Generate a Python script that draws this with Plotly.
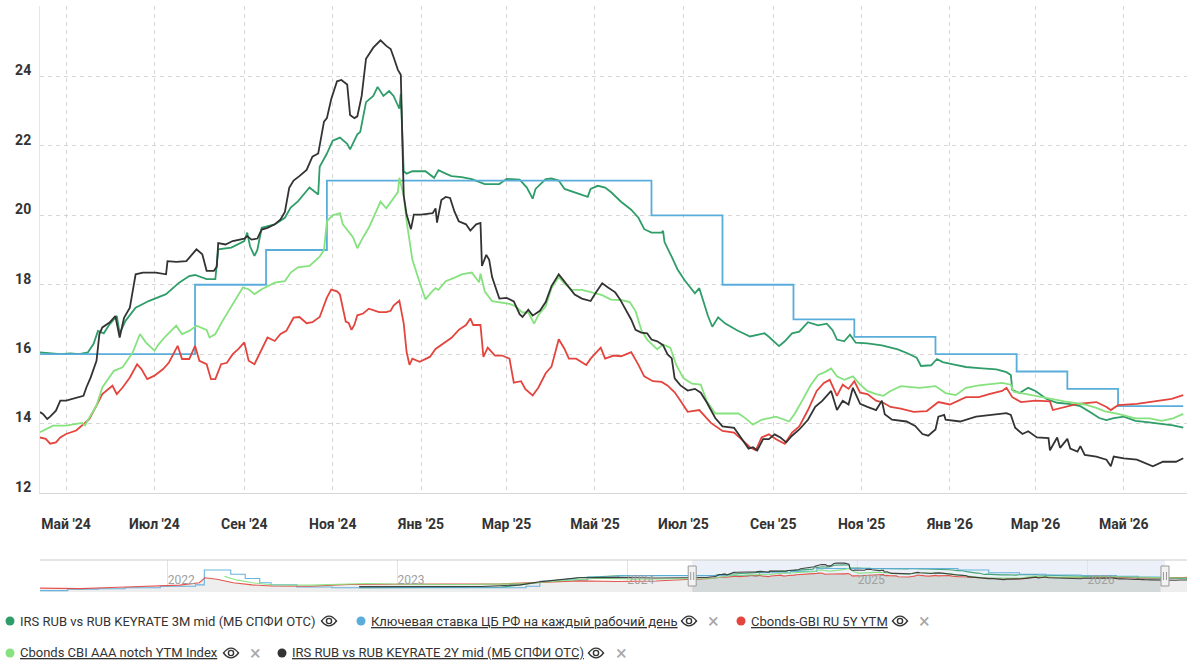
import plotly.graph_objects as go

# ------------------------------------------------------------------ data
# IRS RUB vs RUB KEYRATE 3M mid
irs3m = [
    ("2024-04-13", 16.05), ("2024-04-20", 16.02), ("2024-04-27", 16.0), ("2024-05-04", 16.02),
    ("2024-05-10", 16.0), ("2024-05-16", 16.05), ("2024-05-20", 16.3), ("2024-05-23", 16.67),
    ("2024-05-27", 16.6), ("2024-05-31", 16.86), ("2024-06-05", 17.1), ("2024-06-07", 16.6),
    ("2024-06-11", 16.96), ("2024-06-18", 17.34), ("2024-06-27", 17.53), ("2024-07-09", 17.73),
    ("2024-07-18", 18.06), ("2024-07-25", 18.25), ("2024-07-29", 18.28), ("2024-08-06", 18.16),
    ("2024-08-12", 18.16), ("2024-08-14", 19.02), ("2024-08-23", 19.07), ("2024-09-01", 19.26),
    ("2024-09-03", 19.5), ("2024-09-05", 19.1), ("2024-09-08", 18.83), ("2024-09-10", 19.0),
    ("2024-09-13", 19.64), ("2024-09-22", 19.74), ("2024-09-29", 19.93), ("2024-10-03", 20.22),
    ("2024-10-08", 20.4), ("2024-10-16", 20.8), ("2024-10-22", 20.6), ("2024-10-23", 21.4),
    ("2024-10-28", 21.78), ("2024-11-01", 22.15), ("2024-11-06", 22.24), ("2024-11-11", 22.06),
    ("2024-11-13", 21.9), ("2024-11-18", 22.33), ("2024-11-20", 22.4), ("2024-11-24", 23.26),
    ("2024-11-29", 23.44), ("2024-12-02", 23.7), ("2024-12-06", 23.44), ("2024-12-10", 23.58),
    ("2024-12-13", 23.44), ("2024-12-17", 23.07), ("2024-12-18", 23.5), ("2024-12-20", 21.27),
    ("2024-12-22", 21.2), ("2024-12-26", 21.27), ("2025-01-04", 21.27), ("2025-01-10", 21.08),
    ("2025-01-13", 21.3), ("2025-01-18", 21.2), ("2025-01-22", 21.13), ("2025-01-29", 21.1),
    ("2025-02-05", 21.04), ("2025-02-14", 20.9), ("2025-02-24", 20.9), ("2025-03-01", 21.05),
    ("2025-03-10", 21.03), ("2025-03-15", 20.8), ("2025-03-19", 20.48), ("2025-03-21", 20.76),
    ("2025-03-28", 21.04), ("2025-04-01", 21.06), ("2025-04-06", 21.0), ("2025-04-10", 20.76),
    ("2025-04-19", 20.62), ("2025-04-26", 20.53), ("2025-04-28", 20.76), ("2025-05-03", 20.85),
    ("2025-05-08", 20.8), ("2025-05-12", 20.67), ("2025-05-19", 20.39), ("2025-05-26", 20.16),
    ("2025-05-31", 19.93), ("2025-06-04", 19.6), ("2025-06-09", 19.5), ("2025-06-16", 19.5),
    ("2025-06-17", 19.55), ("2025-06-18", 19.23), ("2025-06-23", 18.8), ("2025-06-27", 18.44),
    ("2025-07-02", 18.12), ("2025-07-09", 17.75), ("2025-07-12", 17.9), ("2025-07-15", 17.52),
    ("2025-07-18", 17.1), ("2025-07-21", 16.79), ("2025-07-25", 17.06), ("2025-07-30", 16.88),
    ("2025-08-07", 16.69), ("2025-08-16", 16.51), ("2025-08-26", 16.6), ("2025-08-29", 16.5),
    ("2025-09-05", 16.23), ("2025-09-09", 16.37), ("2025-09-14", 16.6), ("2025-09-19", 16.65),
    ("2025-09-25", 16.92), ("2025-10-02", 16.83), ("2025-10-08", 16.88), ("2025-10-12", 16.69),
    ("2025-10-15", 16.42), ("2025-10-20", 16.37), ("2025-10-24", 16.56), ("2025-10-28", 16.33),
    ("2025-11-05", 16.31), ("2025-11-15", 16.25), ("2025-11-26", 16.14), ("2025-12-03", 16.02),
    ("2025-12-09", 15.9), ("2025-12-12", 15.66), ("2025-12-19", 15.68), ("2025-12-23", 15.86),
    ("2025-12-27", 15.77), ("2026-01-04", 15.7), ("2026-01-12", 15.63), ("2026-01-21", 15.6),
    ("2026-02-02", 15.56), ("2026-02-09", 15.48), ("2026-02-12", 15.4), ("2026-02-13", 14.97),
    ("2026-02-18", 14.88), ("2026-02-24", 15.03), ("2026-03-01", 14.94), ("2026-03-09", 14.7),
    ("2026-03-16", 14.6), ("2026-03-24", 14.57), ("2026-04-01", 14.5), ("2026-04-09", 14.3),
    ("2026-04-14", 14.16), ("2026-04-19", 14.1), ("2026-04-24", 14.16), ("2026-05-01", 14.2),
    ("2026-05-09", 14.08), ("2026-05-17", 14.04), ("2026-05-24", 14.0), ("2026-06-04", 13.95),
    ("2026-06-11", 13.88),
]

# Key rate (step changes)
keyrate = [
    ("2024-04-13", 16.0), ("2024-07-29", 18.0), ("2024-09-16", 19.0), ("2024-10-28", 21.0),
    ("2025-06-09", 20.0), ("2025-07-28", 18.0), ("2025-09-15", 17.0), ("2025-10-27", 16.5),
    ("2025-12-22", 16.0), ("2026-02-16", 15.5), ("2026-03-23", 15.0), ("2026-04-27", 14.5),
    ("2026-06-11", 14.5),
]

# Cbonds-GBI RU 5Y YTM
gbi5y = [
    ("2024-04-13", 13.6), ("2024-04-17", 13.56), ("2024-04-20", 13.42), ("2024-04-24", 13.46),
    ("2024-04-27", 13.6), ("2024-05-01", 13.7), ("2024-05-08", 13.8), ("2024-05-13", 13.99),
    ("2024-05-17", 14.13), ("2024-05-22", 14.52), ("2024-05-26", 14.85), ("2024-06-02", 15.09),
    ("2024-06-05", 14.85), ("2024-06-09", 15.04), ("2024-06-14", 15.33), ("2024-06-19", 15.71),
    ("2024-06-22", 15.57), ("2024-06-26", 15.28), ("2024-07-01", 15.38), ("2024-07-07", 15.57),
    ("2024-07-11", 15.76), ("2024-07-17", 16.24), ("2024-07-20", 15.86), ("2024-07-25", 15.86),
    ("2024-07-29", 16.24), ("2024-08-01", 15.81), ("2024-08-06", 15.71), ("2024-08-09", 15.28),
    ("2024-08-12", 15.28), ("2024-08-16", 15.71), ("2024-08-20", 15.75), ("2024-08-24", 16.0),
    ("2024-08-28", 16.15), ("2024-09-01", 16.34), ("2024-09-04", 15.81), ("2024-09-08", 15.71),
    ("2024-09-13", 16.15), ("2024-09-17", 16.48), ("2024-09-22", 16.38), ("2024-09-26", 16.58),
    ("2024-09-30", 16.67), ("2024-10-05", 17.05), ("2024-10-09", 17.07), ("2024-10-14", 16.89),
    ("2024-10-18", 16.92), ("2024-10-23", 17.07), ("2024-10-28", 17.63), ("2024-10-31", 17.86),
    ("2024-11-04", 17.81), ("2024-11-06", 17.72), ("2024-11-10", 16.94), ("2024-11-12", 16.9),
    ("2024-11-14", 16.7), ("2024-11-16", 16.85), ("2024-11-18", 17.12), ("2024-11-22", 17.17),
    ("2024-11-26", 17.31), ("2024-12-03", 17.21), ("2024-12-08", 17.21), ("2024-12-11", 17.25),
    ("2024-12-13", 17.4), ("2024-12-17", 17.54), ("2024-12-20", 16.89), ("2024-12-22", 16.06),
    ("2024-12-24", 15.69), ("2024-12-26", 15.87), ("2024-12-31", 15.78), ("2025-01-07", 15.92),
    ("2025-01-11", 16.15), ("2025-01-16", 16.29), ("2025-01-22", 16.47), ("2025-01-27", 16.7),
    ("2025-02-01", 16.84), ("2025-02-04", 17.03), ("2025-02-06", 16.84), ("2025-02-11", 16.84),
    ("2025-02-13", 15.92), ("2025-02-16", 16.19), ("2025-02-21", 15.96), ("2025-02-26", 15.96),
    ("2025-03-03", 15.87), ("2025-03-06", 15.18), ("2025-03-11", 15.22), ("2025-03-14", 14.99),
    ("2025-03-19", 14.81), ("2025-03-23", 15.04), ("2025-03-28", 15.45), ("2025-04-01", 15.64),
    ("2025-04-06", 16.43), ("2025-04-10", 16.15), ("2025-04-13", 15.87), ("2025-04-18", 15.87),
    ("2025-04-25", 15.69), ("2025-04-28", 15.87), ("2025-05-05", 16.19), ("2025-05-08", 15.87),
    ("2025-05-14", 15.96), ("2025-05-19", 15.94), ("2025-05-26", 16.06), ("2025-05-31", 15.69),
    ("2025-06-04", 15.36), ("2025-06-10", 15.22), ("2025-06-16", 15.2), ("2025-06-20", 15.1),
    ("2025-06-25", 14.9), ("2025-06-29", 14.66), ("2025-07-04", 14.34), ("2025-07-12", 14.39),
    ("2025-07-20", 14.02), ("2025-07-28", 13.79), ("2025-08-05", 13.74), ("2025-08-10", 13.55),
    ("2025-08-16", 13.32), ("2025-08-20", 13.23), ("2025-08-24", 13.6), ("2025-08-29", 13.69),
    ("2025-09-03", 13.55), ("2025-09-09", 13.42), ("2025-09-14", 13.74), ("2025-09-19", 13.92),
    ("2025-09-25", 14.39), ("2025-10-01", 14.94), ("2025-10-06", 15.17), ("2025-10-10", 15.26),
    ("2025-10-15", 14.8), ("2025-10-19", 15.12), ("2025-10-23", 15.0), ("2025-10-27", 15.22),
    ("2025-10-31", 14.89), ("2025-11-05", 14.85), ("2025-11-11", 14.66), ("2025-11-16", 14.6),
    ("2025-11-21", 14.48), ("2025-11-28", 14.43), ("2025-12-07", 14.34), ("2025-12-16", 14.36),
    ("2025-12-24", 14.62), ("2026-01-01", 14.55), ("2026-01-12", 14.76), ("2026-01-21", 14.76),
    ("2026-01-28", 14.85), ("2026-02-06", 14.94), ("2026-02-09", 15.03), ("2026-02-13", 14.76),
    ("2026-02-19", 14.62), ("2026-03-01", 14.66), ("2026-03-11", 14.64), ("2026-03-13", 14.39),
    ("2026-03-21", 14.48), ("2026-03-30", 14.57), ("2026-04-12", 14.62), ("2026-04-19", 14.48),
    ("2026-04-22", 14.39), ("2026-04-27", 14.53), ("2026-05-10", 14.57), ("2026-05-21", 14.64),
    ("2026-06-03", 14.71), ("2026-06-11", 14.82),
]

# Cbonds CBI AAA notch YTM Index
cbi_aaa = [
    ("2024-04-13", 13.75), ("2024-04-18", 13.85), ("2024-04-22", 13.94), ("2024-05-01", 13.94),
    ("2024-05-08", 13.99), ("2024-05-12", 14.02), ("2024-05-14", 13.95), ("2024-05-17", 14.18),
    ("2024-05-22", 14.52), ("2024-05-26", 15.04), ("2024-05-31", 15.33), ("2024-06-03", 15.52),
    ("2024-06-09", 15.62), ("2024-06-16", 16.05), ("2024-06-21", 16.58), ("2024-06-25", 16.34),
    ("2024-07-01", 16.1), ("2024-07-04", 16.29), ("2024-07-09", 16.53), ("2024-07-16", 16.82),
    ("2024-07-20", 16.58), ("2024-07-25", 16.67), ("2024-07-30", 16.82), ("2024-08-06", 16.7),
    ("2024-08-08", 16.48), ("2024-08-12", 16.58), ("2024-08-17", 16.96), ("2024-08-24", 17.44),
    ("2024-08-31", 17.92), ("2024-09-04", 17.87), ("2024-09-08", 17.73), ("2024-09-13", 17.87),
    ("2024-09-22", 18.06), ("2024-09-29", 18.1), ("2024-10-03", 18.35), ("2024-10-08", 18.5),
    ("2024-10-16", 18.54), ("2024-10-23", 18.81), ("2024-10-26", 19.0), ("2024-10-28", 19.83),
    ("2024-11-01", 20.0), ("2024-11-06", 20.06), ("2024-11-08", 19.74), ("2024-11-15", 19.37),
    ("2024-11-18", 19.05), ("2024-11-22", 19.37), ("2024-11-26", 19.65), ("2024-12-01", 20.11),
    ("2024-12-04", 20.39), ("2024-12-08", 20.2), ("2024-12-13", 20.48), ("2024-12-16", 20.67),
    ("2024-12-17", 21.08), ("2024-12-20", 20.57), ("2024-12-22", 19.83), ("2024-12-26", 18.72),
    ("2024-12-31", 18.07), ("2025-01-04", 17.58), ("2025-01-08", 17.78), ("2025-01-11", 17.9),
    ("2025-01-13", 17.85), ("2025-01-18", 18.1), ("2025-01-25", 18.22), ("2025-01-29", 18.3),
    ("2025-02-05", 18.35), ("2025-02-10", 18.07), ("2025-02-11", 18.32), ("2025-02-14", 17.8),
    ("2025-02-19", 17.53), ("2025-02-26", 17.48), ("2025-03-03", 17.45), ("2025-03-07", 17.38),
    ("2025-03-12", 17.2), ("2025-03-16", 17.2), ("2025-03-20", 16.88), ("2025-03-23", 17.13),
    ("2025-03-28", 17.38), ("2025-04-01", 17.9), ("2025-04-06", 18.22), ("2025-04-10", 18.03),
    ("2025-04-15", 17.85), ("2025-04-22", 17.85), ("2025-04-28", 17.78), ("2025-05-06", 17.7),
    ("2025-05-12", 17.57), ("2025-05-19", 17.56), ("2025-05-25", 17.5), ("2025-05-29", 17.24),
    ("2025-06-02", 16.7), ("2025-06-06", 16.42), ("2025-06-13", 16.14), ("2025-06-17", 16.28),
    ("2025-06-22", 16.19), ("2025-06-26", 15.7), ("2025-07-01", 15.31), ("2025-07-07", 15.15),
    ("2025-07-13", 15.12), ("2025-07-17", 14.66), ("2025-07-23", 14.29), ("2025-08-02", 14.29),
    ("2025-08-08", 14.29), ("2025-08-13", 14.15), ("2025-08-18", 13.97), ("2025-08-24", 14.11),
    ("2025-09-03", 14.2), ("2025-09-12", 14.06), ("2025-09-16", 14.29), ("2025-09-21", 14.66),
    ("2025-09-27", 15.12), ("2025-10-02", 15.4), ("2025-10-07", 15.49), ("2025-10-11", 15.59),
    ("2025-10-15", 15.36), ("2025-10-20", 15.26), ("2025-10-26", 15.36), ("2025-10-31", 15.12),
    ("2025-11-05", 14.94), ("2025-11-11", 14.85), ("2025-11-16", 14.8), ("2025-11-21", 14.94),
    ("2025-11-28", 15.08), ("2025-12-11", 15.03), ("2025-12-22", 15.08), ("2025-12-29", 14.88),
    ("2026-01-05", 14.82), ("2026-01-12", 15.03), ("2026-01-21", 15.1), ("2026-02-06", 15.17),
    ("2026-02-12", 15.12), ("2026-02-14", 14.92), ("2026-02-24", 14.84), ("2026-03-08", 14.76),
    ("2026-03-21", 14.64), ("2026-04-04", 14.55), ("2026-04-12", 14.45), ("2026-04-18", 14.35),
    ("2026-04-27", 14.28), ("2026-05-09", 14.15), ("2026-05-19", 14.15), ("2026-05-27", 14.08),
    ("2026-06-04", 14.15), ("2026-06-11", 14.28),
]

# IRS RUB vs RUB KEYRATE 2Y mid
irs2y = [
    ("2024-04-13", 14.33), ("2024-04-15", 14.28), ("2024-04-18", 14.13), ("2024-04-20", 14.2),
    ("2024-04-24", 14.37), ("2024-04-27", 14.66), ("2024-05-01", 14.66), ("2024-05-06", 14.71),
    ("2024-05-13", 14.8), ("2024-05-15", 15.04), ("2024-05-18", 15.33), ("2024-05-22", 15.81),
    ("2024-05-24", 16.58), ("2024-05-26", 16.77), ("2024-05-31", 16.91), ("2024-06-04", 17.1),
    ("2024-06-07", 16.48), ("2024-06-10", 17.05), ("2024-06-14", 17.34), ("2024-06-18", 18.3),
    ("2024-06-23", 18.35), ("2024-07-02", 18.35), ("2024-07-09", 18.3), ("2024-07-10", 18.68),
    ("2024-07-16", 18.66), ("2024-07-23", 18.68), ("2024-07-30", 19.02), ("2024-08-03", 18.88),
    ("2024-08-06", 18.4), ("2024-08-11", 18.4), ("2024-08-13", 18.52), ("2024-08-14", 19.2),
    ("2024-08-19", 19.16), ("2024-08-24", 19.26), ("2024-09-01", 19.33), ("2024-09-03", 19.4),
    ("2024-09-06", 19.3), ("2024-09-10", 19.33), ("2024-09-13", 19.59), ("2024-09-17", 19.64),
    ("2024-09-22", 19.74), ("2024-09-26", 19.88), ("2024-09-29", 20.1), ("2024-10-02", 20.79),
    ("2024-10-05", 21.0), ("2024-10-09", 21.13), ("2024-10-14", 21.31), ("2024-10-18", 21.69),
    ("2024-10-22", 21.78), ("2024-10-24", 22.24), ("2024-10-26", 22.7), ("2024-10-28", 22.8),
    ("2024-10-31", 23.35), ("2024-11-04", 23.86), ("2024-11-07", 23.9), ("2024-11-11", 23.77),
    ("2024-11-13", 22.89), ("2024-11-16", 22.8), ("2024-11-18", 22.85), ("2024-11-21", 23.44),
    ("2024-11-24", 24.51), ("2024-11-29", 24.83), ("2024-12-02", 24.97), ("2024-12-04", 25.04),
    ("2024-12-08", 24.88), ("2024-12-11", 24.79), ("2024-12-13", 24.56), ("2024-12-16", 24.19),
    ("2024-12-18", 24.05), ("2024-12-19", 22.24), ("2024-12-20", 20.57), ("2024-12-22", 20.02),
    ("2024-12-25", 19.6), ("2024-12-27", 20.02), ("2025-01-01", 20.02), ("2025-01-09", 20.06),
    ("2025-01-11", 20.2), ("2025-01-12", 19.79), ("2025-01-15", 20.44), ("2025-01-18", 20.53),
    ("2025-01-21", 20.5), ("2025-01-24", 20.11), ("2025-01-27", 19.83), ("2025-02-01", 19.74),
    ("2025-02-04", 19.56), ("2025-02-08", 19.74), ("2025-02-11", 19.78), ("2025-02-12", 18.54),
    ("2025-02-15", 18.86), ("2025-02-17", 18.72), ("2025-02-19", 18.22), ("2025-02-24", 17.6),
    ("2025-03-01", 17.62), ("2025-03-06", 17.52), ("2025-03-10", 17.15), ("2025-03-12", 17.07),
    ("2025-03-16", 17.28), ("2025-03-19", 17.11), ("2025-03-24", 17.25), ("2025-03-28", 17.5),
    ("2025-04-01", 17.96), ("2025-04-06", 18.3), ("2025-04-10", 18.08), ("2025-04-17", 17.72),
    ("2025-04-22", 17.6), ("2025-04-28", 17.53), ("2025-05-02", 17.8), ("2025-05-06", 18.04),
    ("2025-05-10", 17.92), ("2025-05-15", 17.78), ("2025-05-18", 17.6), ("2025-05-23", 17.2),
    ("2025-05-26", 17.0), ("2025-05-29", 16.7), ("2025-06-02", 16.62), ("2025-06-06", 16.6),
    ("2025-06-09", 16.42), ("2025-06-13", 16.37), ("2025-06-17", 16.26), ("2025-06-20", 16.0),
    ("2025-06-23", 15.88), ("2025-06-25", 15.3), ("2025-06-29", 15.1), ("2025-07-04", 14.95),
    ("2025-07-09", 15.0), ("2025-07-13", 14.89), ("2025-07-17", 14.62), ("2025-07-23", 14.16),
    ("2025-07-28", 13.92), ("2025-08-05", 13.88), ("2025-08-09", 13.65), ("2025-08-15", 13.28),
    ("2025-08-18", 13.32), ("2025-08-21", 13.23), ("2025-08-25", 13.55), ("2025-08-29", 13.55),
    ("2025-09-02", 13.69), ("2025-09-06", 13.6), ("2025-09-10", 13.46), ("2025-09-14", 13.65),
    ("2025-09-19", 13.83), ("2025-09-25", 14.11), ("2025-09-30", 14.48), ("2025-10-05", 14.66),
    ("2025-10-11", 14.94), ("2025-10-15", 14.39), ("2025-10-19", 14.66), ("2025-10-23", 14.55),
    ("2025-10-26", 15.03), ("2025-10-31", 14.57), ("2025-11-05", 14.48), ("2025-11-11", 14.39),
    ("2025-11-15", 14.66), ("2025-11-17", 14.27), ("2025-11-22", 14.11), ("2025-12-02", 14.06),
    ("2025-12-08", 13.93), ("2025-12-13", 13.7), ("2025-12-17", 13.65), ("2025-12-22", 13.83),
    ("2025-12-24", 14.2), ("2025-12-28", 14.25), ("2025-12-29", 14.11), ("2026-01-08", 14.06),
    ("2026-01-19", 14.2), ("2026-01-30", 14.25), ("2026-02-09", 14.3), ("2026-02-12", 14.25),
    ("2026-02-15", 13.88), ("2026-02-20", 13.7), ("2026-02-24", 13.78), ("2026-03-02", 13.6),
    ("2026-03-10", 13.58), ("2026-03-11", 13.23), ("2026-03-16", 13.6), ("2026-03-18", 13.3),
    ("2026-03-23", 13.56), ("2026-03-25", 13.28), ("2026-03-30", 13.19), ("2026-04-01", 13.35),
    ("2026-04-04", 13.1), ("2026-04-12", 13.05), ("2026-04-19", 12.96), ("2026-04-22", 12.77),
    ("2026-04-24", 13.05), ("2026-05-01", 13.0), ("2026-05-10", 12.96), ("2026-05-21", 12.77),
    ("2026-05-28", 12.9), ("2026-06-06", 12.9), ("2026-06-11", 13.0),
]

# earlier history, only visible in the navigator strip
keyrate_hist = [
    ("2021-06-12", 5.5), ("2021-07-26", 6.5), ("2021-09-13", 6.75), ("2021-10-25", 7.5),
    ("2021-12-20", 8.5), ("2022-02-14", 9.5), ("2022-02-28", 20.0), ("2022-04-11", 17.0),
    ("2022-05-04", 14.0), ("2022-05-27", 11.0), ("2022-06-14", 9.5), ("2022-07-25", 8.0),
    ("2022-09-19", 7.5), ("2023-07-24", 8.5), ("2023-08-15", 12.0), ("2023-09-18", 13.0),
    ("2023-10-30", 15.0), ("2023-12-18", 16.0),
]
gbi5y_hist = [
    ("2021-06-12", 7.2), ("2021-08-15", 6.9), ("2021-10-15", 7.8), ("2021-12-15", 8.5),
    ("2022-01-20", 9.3), ("2022-02-20", 11.0), ("2022-03-01", 14.5), ("2022-03-20", 13.5),
    ("2022-04-15", 11.0), ("2022-05-15", 9.5), ("2022-06-15", 8.7), ("2022-08-15", 8.5),
    ("2022-10-15", 9.8), ("2022-12-15", 10.0), ("2023-03-15", 10.0), ("2023-06-15", 10.2),
    ("2023-08-15", 11.3), ("2023-10-15", 12.3), ("2023-12-15", 11.9), ("2024-02-15", 12.2),
    ("2024-04-12", 13.5),
]
cbi_aaa_hist = [
    ("2022-04-01", 15.5), ("2022-04-20", 13.0), ("2022-05-15", 11.0), ("2022-06-15", 9.6),
    ("2022-08-15", 9.3), ("2022-10-15", 10.0), ("2022-11-15", 10.5), ("2023-01-15", 10.0),
    ("2023-04-15", 9.8), ("2023-07-15", 10.3), ("2023-09-15", 12.5), ("2023-11-15", 14.2),
    ("2024-01-15", 13.5), ("2024-03-15", 13.5), ("2024-04-12", 13.75),
]
irs2y_hist = [
    ("2022-11-01", 8.3), ("2023-02-15", 8.6), ("2023-05-15", 8.4), ("2023-07-15", 9.5),
    ("2023-08-20", 12.0), ("2023-10-15", 14.5), ("2023-12-15", 14.8), ("2024-02-15", 14.3),
    ("2024-04-12", 14.3),
]
irs3m_hist = [
    ("2022-11-01", 7.6), ("2023-03-15", 7.7), ("2023-06-15", 7.9), ("2023-08-20", 11.5),
    ("2023-10-15", 14.5), ("2023-12-15", 15.9), ("2024-02-15", 16.0), ("2024-04-12", 16.05),
]

month_ticks = ["2024-05-01", "2024-07-01", "2024-09-01", "2024-11-01", "2025-01-01",
               "2025-03-01", "2025-05-01", "2025-07-01", "2025-09-01", "2025-11-01",
               "2026-01-01", "2026-03-01", "2026-05-01"]
month_labels = ["Май '24", "Июл '24", "Сен '24", "Ноя '24", "Янв '25", "Мар '25", "Май '25",
                "Июл '25", "Сен '25", "Ноя '25", "Янв '26", "Мар '26", "Май '26"]
year_ticks = ["2022-01-01", "2023-01-01", "2024-01-01", "2025-01-01", "2026-01-01"]
year_labels = ["2022", "2023", "2024", "2025", "2026"]
y_ticks = [12, 14, 16, 18, 20, 22, 24]

series_names = ["IRS RUB vs RUB KEYRATE 3M mid (МБ СПФИ ОТС)",
                "Ключевая ставка ЦБ РФ на каждый рабочий день",
                "Cbonds-GBI RU 5Y YTM",
                "Cbonds CBI AAA notch YTM Index",
                "IRS RUB vs RUB KEYRATE 2Y mid (МБ СПФИ ОТС)"]

# ------------------------------------------------------------------ styling
C_3M = "#2f9d69"
C_KEY = "#5aaddb"
C_GBI = "#e3453e"
C_CBI = "#85e27e"
C_2Y = "#333333"

W, H = 1200, 667
ML, MR, MT, MB = 40, 13, 6, 75
PW, PH = W - ML - MR, H - MT - MB


def px_x(x):
    return (x - ML) / PW


def px_y(y):
    return (H - MB - y) / PH


def xs(s):
    return [d for d, _ in s]


def ys(s):
    return [v for _, v in s]


FONT = "Roboto, 'Noto Sans', sans-serif"

fig = go.Figure()

main = [(irs3m, C_3M, "linear"), (keyrate, C_KEY, "hv"), (gbi5y, C_GBI, "linear"),
        (cbi_aaa, C_CBI, "linear"), (irs2y, C_2Y, "linear")]
hist = [irs3m_hist, keyrate_hist, gbi5y_hist, cbi_aaa_hist, irs2y_hist]

# navigator background fill (under GBI series)
sel_start, sel_end = "2024-04-13", "2026-05-04"
nav_gbi = gbi5y_hist + gbi5y
fig.add_trace(go.Scatter(x=xs(nav_gbi), y=ys(nav_gbi), xaxis="x2", yaxis="y2", mode="lines",
                         line=dict(width=0), fill="tozeroy", fillcolor="#eeeeee",
                         hoverinfo="skip", showlegend=False))
nav_sel = [p for p in nav_gbi if sel_start <= p[0] <= sel_end]
fig.add_trace(go.Scatter(x=xs(nav_sel), y=ys(nav_sel), xaxis="x2", yaxis="y2", mode="lines",
                         line=dict(width=0), fill="tozeroy", fillcolor="#d3d9d8",
                         hoverinfo="skip", showlegend=False))

for (s, c, shape), h, name in zip(main, hist, series_names):
    full = h + s
    fig.add_trace(go.Scatter(x=xs(full), y=ys(full), xaxis="x2", yaxis="y2", mode="lines",
                             line=dict(color=c, width=1.1, shape=shape), opacity=0.9,
                             hoverinfo="skip", showlegend=False))

for (s, c, shape), name in zip(main, series_names):
    fig.add_trace(go.Scatter(x=xs(s), y=ys(s), mode="lines", name=name,
                             line=dict(color=c, width=1.8, shape=shape), showlegend=False))

grid = dict(showgrid=True, gridcolor="#d6d6d6", griddash="4px,4px", gridwidth=1)
fig.update_layout(
    width=W, height=H, margin=dict(l=ML, r=MR, t=MT, b=MB),
    paper_bgcolor="white", plot_bgcolor="white", showlegend=False,
    font=dict(family=FONT, color="#333"),
    xaxis=dict(type="date", range=["2024-04-13", "2026-06-13 14:00"], domain=[0, 1],
               tickvals=month_ticks, ticktext=month_labels, anchor="y",
               ticks="outside", ticklen=18, tickcolor="rgba(0,0,0,0)",
               tickfont=dict(family=FONT, size=14, color="#333", weight="bold"),
               showline=True, linecolor="#d8d8d8", linewidth=1, zeroline=False, **grid),
    yaxis=dict(range=[12, 26.03], domain=[px_y(493), 1], tickvals=y_ticks,
               ticks="outside", ticklen=5, tickcolor="rgba(0,0,0,0)", ticklabelshift=-6,
               tickfont=dict(family=FONT, size=14, color="#333", weight="bold"),
               showline=True, linecolor="#e6e6e6", zeroline=False, **grid),
    xaxis2=dict(type="date", range=["2021-06-12", "2026-06-08"], anchor="y2", domain=[0, 1],
                tickvals=year_ticks, ticktext=year_labels, ticklabelposition="inside right",
                ticks="", tickfont=dict(family=FONT, size=12, color="#a0a0a0"),
                showgrid=True, gridcolor="#e3e3e3", gridwidth=1, showline=False,
                zeroline=False),
    yaxis2=dict(range=[4.5, 27], domain=[0, px_y(560)], anchor="x2", showgrid=False,
                showticklabels=False, zeroline=False, ticks=""),
)

shapes = []
# navigator selection mask
shapes.append(dict(type="rect", xref="x2", yref="y2 domain", x0=sel_start, x1=sel_end,
                   y0=0, y1=1, fillcolor="rgba(102,133,194,0.12)", line=dict(width=0),
                   layer="below"))
# navigator outline
shapes.append(dict(type="line", xref="paper", yref="paper", x0=0, x1=1,
                   y0=px_y(560), y1=px_y(560), line=dict(color="#cccccc", width=1)))
# handles
for hx in (sel_start, sel_end):
    shapes.append(dict(type="rect", xref="x2", yref="paper", xsizemode="pixel", xanchor=hx,
                       x0=-4, x1=4, y0=px_y(586), y1=px_y(566),
                       fillcolor="#f2f2f2", line=dict(color="#999999", width=1)))
    for dx in (-1.5, 1.5):
        shapes.append(dict(type="line", xref="x2", yref="paper", xsizemode="pixel",
                           xanchor=hx, x0=dx, x1=dx, y0=px_y(580), y1=px_y(572),
                           line=dict(color="#999999", width=1)))

annotations = []

# custom legend
legend_items = [
    # (color, text, dot_x, row_y, underline, eye_x, close_x)
    (C_3M, series_names[0], 10, 621, False, 329, None),
    (C_KEY, series_names[1], 361, 621, True, 689, 713),
    (C_GBI, series_names[2], 741, 621, True, 900, 924),
    (C_CBI, series_names[3], 10, 653, True, 231, 255),
    (C_2Y, series_names[4], 282, 653, True, 596, 621),
]
for color, text, dx, ry, ul, ex, cx in legend_items:
    r = 4.5
    shapes.append(dict(type="circle", xref="paper", yref="paper",
                       x0=px_x(dx - r), x1=px_x(dx + r), y0=px_y(ry + r), y1=px_y(ry - r),
                       fillcolor=color, line=dict(width=0)))
    annotations.append(dict(xref="paper", yref="paper", x=px_x(dx + 8), y=px_y(ry),
                            xanchor="left", yanchor="middle", showarrow=False,
                            text=f"<u>{text}</u>" if ul else text,
                            font=dict(family=FONT, size=13, color="#333")))
    # eye icon
    ew, eh = 7.5, 6.5
    path = (f"M {px_x(ex - ew)},{px_y(ry)} Q {px_x(ex)},{px_y(ry - eh * 1.5)} "
            f"{px_x(ex + ew)},{px_y(ry)} Q {px_x(ex)},{px_y(ry + eh * 1.5)} "
            f"{px_x(ex - ew)},{px_y(ry)} Z")
    shapes.append(dict(type="path", xref="paper", yref="paper", path=path,
                       line=dict(color="#333", width=1.4)))
    pr = 2.6
    shapes.append(dict(type="circle", xref="paper", yref="paper",
                       x0=px_x(ex - pr), x1=px_x(ex + pr), y0=px_y(ry + pr), y1=px_y(ry - pr),
                       line=dict(color="#333", width=1.4)))
    if cx is not None:
        annotations.append(dict(xref="paper", yref="paper", x=px_x(cx), y=px_y(ry),
                                xanchor="center", yanchor="middle", showarrow=False,
                                text="×", font=dict(family=FONT, size=20, color="#a8a8a8")))

fig.update_layout(shapes=shapes, annotations=annotations)
fig.write_html("out.html")
